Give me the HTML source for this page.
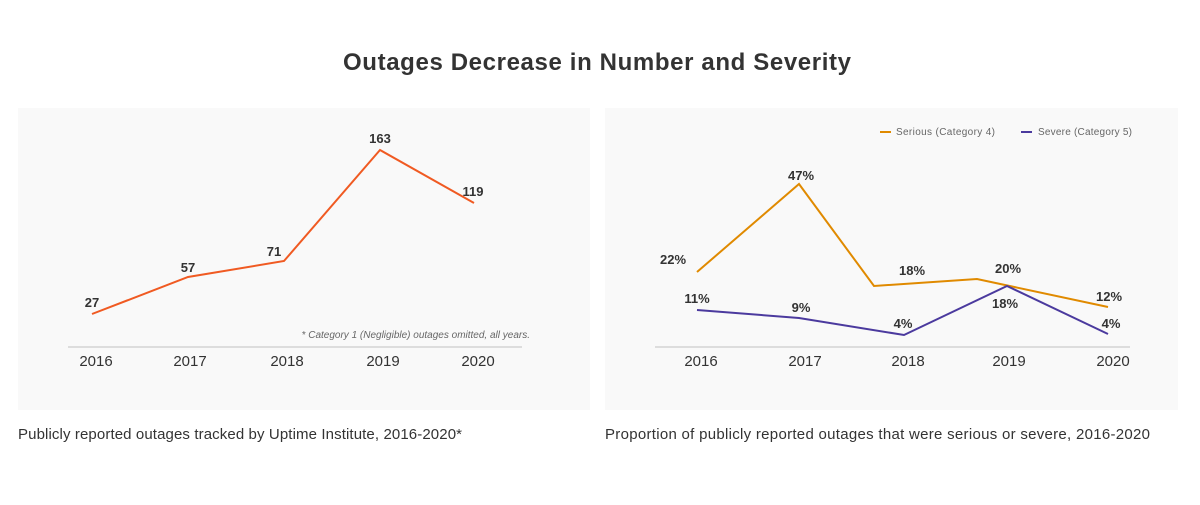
<!DOCTYPE html>
<html><head><style>
body{margin:0;width:1200px;height:500px;background:#fff;font-family:"Liberation Sans",sans-serif;overflow:hidden}
</style></head><body>
<svg width="1200" height="500" xmlns="http://www.w3.org/2000/svg" font-family="Liberation Sans, sans-serif">
<text x="597" y="70" text-anchor="middle" font-size="24" font-weight="bold" fill="#333" textLength="508">Outages Decrease in Number and Severity</text>
<rect x="18" y="108" width="572" height="302" fill="#f9f9f9"/>
<rect x="605" y="108" width="573" height="302" fill="#f9f9f9"/>
<line x1="68" y1="347" x2="522" y2="347" stroke="#ddd" stroke-width="2"/>
<line x1="655" y1="347" x2="1130" y2="347" stroke="#ddd" stroke-width="2"/>
<g font-size="15" fill="#333" text-anchor="middle">
<text x="96" y="366">2016</text><text x="190" y="366">2017</text><text x="287" y="366">2018</text><text x="383" y="366">2019</text><text x="478" y="366">2020</text>
<text x="701" y="366">2016</text><text x="805" y="366">2017</text><text x="908" y="366">2018</text><text x="1009" y="366">2019</text><text x="1113" y="366">2020</text>
</g>
<text x="530" y="338" font-size="10" font-style="italic" fill="#666" text-anchor="end">* Category 1 (Negligible) outages omitted, all years.</text>
<polyline points="92,314 188,277 284,261 380,150 474,203" fill="none" stroke="#f05a22" stroke-width="2"/>
<g font-size="13" font-weight="bold" fill="#333" text-anchor="middle">
<text x="92" y="307">27</text><text x="188" y="272">57</text><text x="274" y="256">71</text><text x="380" y="143">163</text><text x="473" y="196">119</text>
</g>
<polyline points="697,272 799,184 874,286 977,279 1108,307" fill="none" stroke="#e08a00" stroke-width="2"/>
<polyline points="697,310 799,318 904,335 1007,286 1108,334" fill="none" stroke="#4b3a9e" stroke-width="2"/>
<g font-size="13" font-weight="bold" fill="#333" text-anchor="middle">
<text x="673" y="264">22%</text><text x="801" y="180">47%</text><text x="912" y="275">18%</text><text x="1008" y="273">20%</text><text x="1109" y="301">12%</text>
<text x="697" y="303">11%</text><text x="801" y="312">9%</text><text x="903" y="328">4%</text><text x="1005" y="308">18%</text><text x="1111" y="328">4%</text>
</g>
<line x1="880" y1="132" x2="891" y2="132" stroke="#e08a00" stroke-width="2"/>
<text x="896" y="135" font-size="10" fill="#666" textLength="99">Serious (Category 4)</text>
<line x1="1021" y1="132" x2="1032" y2="132" stroke="#4b3a9e" stroke-width="2"/>
<text x="1038" y="135" font-size="10" fill="#666" textLength="94">Severe (Category 5)</text>
<text x="18" y="439" font-size="15" fill="#333" textLength="444">Publicly reported outages tracked by Uptime Institute, 2016-2020*</text>
<text x="605" y="439" font-size="15" fill="#333" textLength="545">Proportion of publicly reported outages that were serious or severe, 2016-2020</text>
</svg>
</body></html>
